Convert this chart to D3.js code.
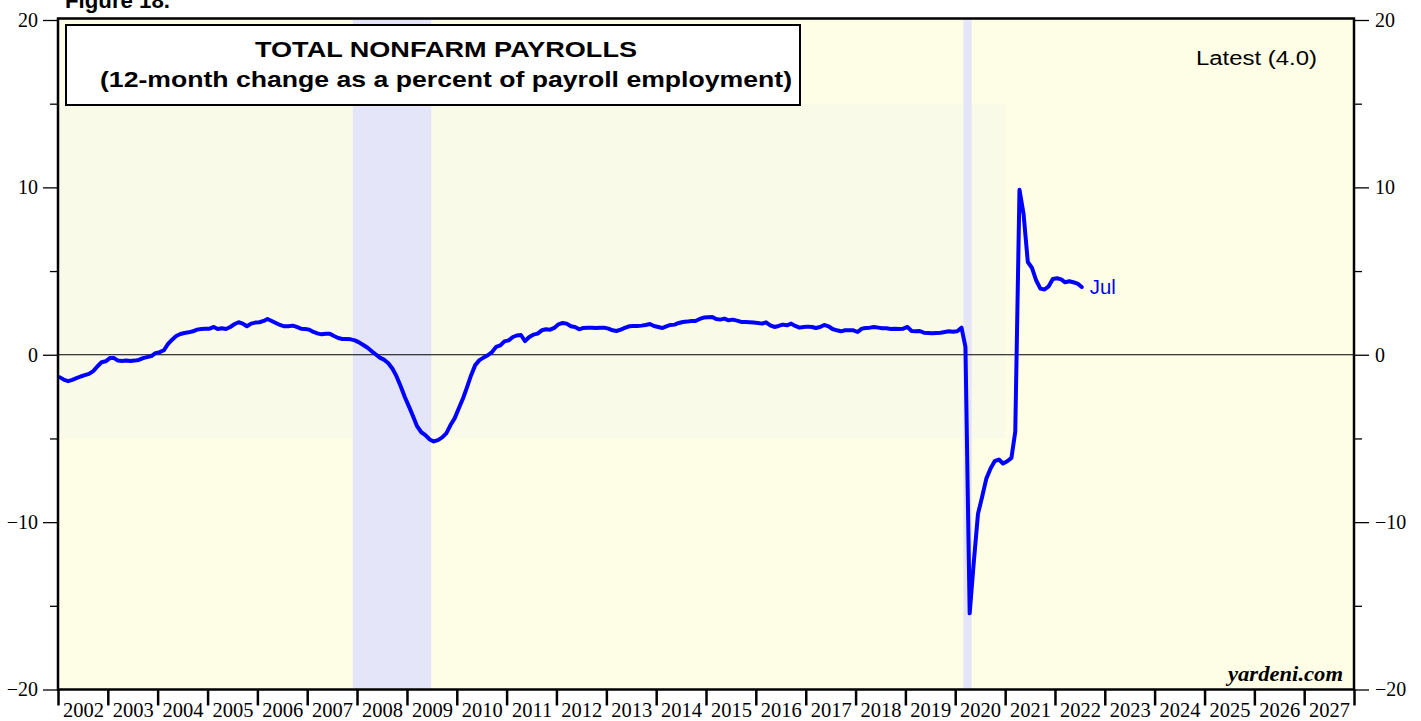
<!DOCTYPE html>
<html>
<head>
<meta charset="utf-8">
<script src="https://cdn.jsdelivr.net/npm/d3@7"></script>
<style>
  body { margin: 0; background: #fff; }
  svg { display: block; }
</style>
</head>
<body>
<div id="chart"></div>
<script>
// monthly 12-month % change, starting Jan 2002
const startYear = 2002;
const values = [
  // 2002
  -1.35, -1.5, -1.58, -1.5, -1.4, -1.3, -1.22, -1.14, -0.98, -0.7, -0.45, -0.39,
  // 2003
  -0.2, -0.2, -0.35, -0.37, -0.35, -0.38, -0.35, -0.31, -0.2, -0.14, -0.08, 0.1,
  // 2004
  0.16, 0.27, 0.63, 0.9, 1.12, 1.24, 1.3, 1.34, 1.4, 1.5, 1.54, 1.56,
  // 2005
  1.56, 1.66, 1.54, 1.58, 1.54, 1.66, 1.82, 1.94, 1.86, 1.7, 1.86, 1.92,
  // 2006
  1.94, 2.02, 2.14, 2.02, 1.9, 1.78, 1.7, 1.7, 1.74, 1.66, 1.56, 1.54,
  // 2007
  1.5, 1.36, 1.28, 1.22, 1.26, 1.26, 1.12, 1.0, 0.94, 0.94, 0.92, 0.86,
  // 2008
  0.74, 0.58, 0.43, 0.22, 0.03, -0.17, -0.29, -0.49, -0.82, -1.28, -1.88, -2.52,
  // 2009
  -3.1, -3.7, -4.27, -4.63, -4.8, -5.06, -5.18, -5.1, -4.94, -4.7, -4.2, -3.8,
  // 2010
  -3.2, -2.6, -1.96, -1.22, -0.62, -0.32, -0.17, -0.03, 0.16, 0.47, 0.56, 0.8,
  // 2011
  0.86, 1.06, 1.15, 1.18, 0.82, 1.06, 1.2, 1.26, 1.46, 1.52, 1.5, 1.6,
  // 2012
  1.82, 1.9, 1.86, 1.7, 1.66, 1.52, 1.6, 1.62, 1.62, 1.6, 1.62, 1.62,
  // 2013
  1.56, 1.46, 1.42, 1.5, 1.6, 1.7, 1.72, 1.72, 1.74, 1.78, 1.84, 1.72,
  // 2014
  1.66, 1.6, 1.7, 1.78, 1.8, 1.9, 1.96, 1.98, 2.02, 2.02, 2.14, 2.22,
  // 2015
  2.24, 2.26, 2.14, 2.1, 2.16, 2.06, 2.1, 2.04, 1.96, 1.96, 1.94, 1.92,
  // 2016
  1.9, 1.86, 1.94, 1.76, 1.66, 1.72, 1.8, 1.76, 1.86, 1.72, 1.62, 1.66,
  // 2017
  1.68, 1.66, 1.6, 1.66, 1.78, 1.7, 1.54, 1.46, 1.4, 1.46, 1.46, 1.46,
  // 2018
  1.36, 1.56, 1.6, 1.62, 1.66, 1.62, 1.58, 1.58, 1.54, 1.56, 1.54, 1.56,
  // 2019
  1.66, 1.42, 1.4, 1.42, 1.32, 1.3, 1.28, 1.3, 1.32, 1.36, 1.4, 1.38,
  // 2020
  1.4, 1.62, 0.47, -15.45, -12.4, -9.5, -8.5, -7.4, -6.8, -6.36, -6.26, -6.5,
  // 2021
  -6.36, -6.16, -4.6, 9.86, 8.4, 5.54, 5.2, 4.45, 3.95, 3.9, 4.09, 4.53,
  // 2022
  4.57, 4.5, 4.33, 4.39, 4.33, 4.25, 4.05
];

const years = d3.range(2002, 2028);
const yMajor = [-20, -10, 0, 10, 20];
const yMinor = [-15, -5, 5, 15];
const recessions = [["2007-12-01", "2009-06-28"], ["2020-03-01", "2020-05-01"]];
const innerBox = { from: "2002-01-01", to: "2021-01-01", top: 15, bottom: -5 };
const titleLines = ["TOTAL NONFARM PAYROLLS", "(12-month change as a percent of payroll employment)"];
const latestLabel = "Latest (4.0)";
const lastMonthLabel = "Jul";

const W = 1421, H = 721;
const X0 = 58, X1 = 1354, Y0 = 18.5, Y1 = 689.5;
const sans = "Liberation Sans, Arial, sans-serif";
const serif = "Liberation Serif, Times New Roman, serif";

const svg = d3.select("#chart").append("svg")
  .attr("width", W).attr("height", H);

const parse = d3.timeParse("%Y-%m-%d");
const data = values.map((v, i) => ({
  date: new Date(startYear, i, 16),
  value: v
}));

const x = d3.scaleTime()
  .domain([new Date(2002, 0, 1), new Date(2028, 0, 1)])
  .range([X0, X1]);
const y = d3.scaleLinear().domain([-20, 20]).range([Y1, Y0 + 1.5]);

// background
svg.append("rect")
  .attr("x", X0).attr("y", Y0)
  .attr("width", X1 - X0).attr("height", Y1 - Y0)
  .attr("fill", "#fefee6");

svg.append("rect")
  .attr("x", x(parse(innerBox.from)))
  .attr("y", y(innerBox.top))
  .attr("width", x(parse(innerBox.to)) - x(parse(innerBox.from)))
  .attr("height", y(innerBox.bottom) - y(innerBox.top))
  .attr("fill", "#fafae8");

// recession shading
svg.selectAll(".rec").data(recessions).enter().append("rect")
  .attr("class", "rec")
  .attr("x", d => x(parse(d[0])))
  .attr("y", Y0)
  .attr("width", d => x(parse(d[1])) - x(parse(d[0])))
  .attr("height", Y1 - Y0)
  .attr("fill", "#e5e5fa");

// zero line
svg.append("line")
  .attr("x1", X0).attr("x2", X1)
  .attr("y1", y(0)).attr("y2", y(0))
  .attr("stroke", "#000").attr("stroke-width", 1.2);

// series
const line = d3.line()
  .x(d => x(d.date))
  .y(d => y(d.value));

svg.append("path")
  .datum(data)
  .attr("fill", "none")
  .attr("stroke", "#0000ff")
  .attr("stroke-width", 4)
  .attr("stroke-linejoin", "round")
  .attr("stroke-linecap", "round")
  .attr("d", line);

const last = data[data.length - 1];
svg.append("text")
  .attr("x", x(last.date) + 8)
  .attr("y", y(last.value) + 7)
  .attr("font-family", sans)
  .attr("font-size", 20)
  .attr("textLength", 26)
  .attr("lengthAdjust", "spacingAndGlyphs")
  .attr("fill", "#0000ff")
  .text(lastMonthLabel);

// frame
svg.append("rect")
  .attr("x", X0).attr("y", Y0)
  .attr("width", X1 - X0).attr("height", Y1 - Y0)
  .attr("fill", "none")
  .attr("stroke", "#000").attr("stroke-width", 2.5);

// y axes
function styleAxis(g) {
  g.select(".domain").remove();
  g.selectAll(".tick line").attr("stroke", "#000").attr("stroke-width", 1.3);
  g.selectAll("text").attr("font-family", serif).attr("font-size", 20).attr("fill", "#000");
}

svg.append("g").attr("transform", `translate(${X0},0)`)
  .call(d3.axisLeft(y).tickValues(yMajor).tickSize(15).tickPadding(5).tickFormat(d3.format("d")))
  .call(styleAxis);
svg.append("g").attr("transform", `translate(${X0},0)`)
  .call(d3.axisLeft(y).tickValues(yMinor).tickSize(8).tickFormat(""))
  .call(styleAxis);
svg.append("g").attr("transform", `translate(${X1},0)`)
  .call(d3.axisRight(y).tickValues(yMajor).tickSize(15).tickPadding(6).tickFormat(d3.format("d")))
  .call(styleAxis);
svg.append("g").attr("transform", `translate(${X1},0)`)
  .call(d3.axisRight(y).tickValues(yMinor).tickSize(8).tickFormat(""))
  .call(styleAxis);

// x axis: ticks at year starts, labels centred in the year
const yearW = x(new Date(2003, 0, 1)) - x(new Date(2002, 0, 1));
const xAxis = svg.append("g").attr("transform", `translate(0,${Y1})`)
  .call(d3.axisBottom(x)
    .tickValues(years.concat([2028]).map(yr => new Date(yr, 0, 1)))
    .tickSize(16)
    .tickFormat(d => d.getFullYear() < 2028 ? d.getFullYear() : ""));
xAxis.select(".domain").remove();
xAxis.selectAll(".tick line").attr("stroke", "#000").attr("stroke-width", 2.5);
xAxis.selectAll("text")
  .attr("x", yearW / 2)
  .attr("y", 13)
  .attr("font-family", serif)
  .attr("font-size", 20.5)
  .attr("fill", "#000");

// title box
svg.append("rect")
  .attr("x", 66).attr("y", 25)
  .attr("width", 734).attr("height", 80)
  .attr("fill", "#fff")
  .attr("stroke", "#000").attr("stroke-width", 2);

const titleWidths = [382, 692];
svg.selectAll(".title").data(titleLines).enter().append("text")
  .attr("class", "title")
  .attr("x", 446)
  .attr("y", (d, i) => 57 + i * 30)
  .attr("text-anchor", "middle")
  .attr("font-family", sans)
  .attr("font-weight", "bold")
  .attr("font-size", 22)
  .attr("textLength", (d, i) => titleWidths[i])
  .attr("lengthAdjust", "spacingAndGlyphs")
  .text(d => d);

svg.append("text")
  .attr("x", 1196).attr("y", 65)
  .attr("font-family", sans)
  .attr("font-size", 20)
  .attr("textLength", 121)
  .attr("lengthAdjust", "spacingAndGlyphs")
  .text(latestLabel);

svg.append("text")
  .attr("x", 1228).attr("y", 681)
  .attr("font-family", serif)
  .attr("font-weight", "bold")
  .attr("font-style", "italic")
  .attr("font-size", 21)
  .attr("textLength", 115)
  .attr("lengthAdjust", "spacingAndGlyphs")
  .text("yardeni.com");

svg.append("text")
  .attr("x", 65).attr("y", 8)
  .attr("font-family", sans)
  .attr("font-weight", "bold")
  .attr("font-size", 22)
  .attr("textLength", 105)
  .attr("lengthAdjust", "spacingAndGlyphs")
  .text("Figure 18.");
</script>
</body>
</html>
